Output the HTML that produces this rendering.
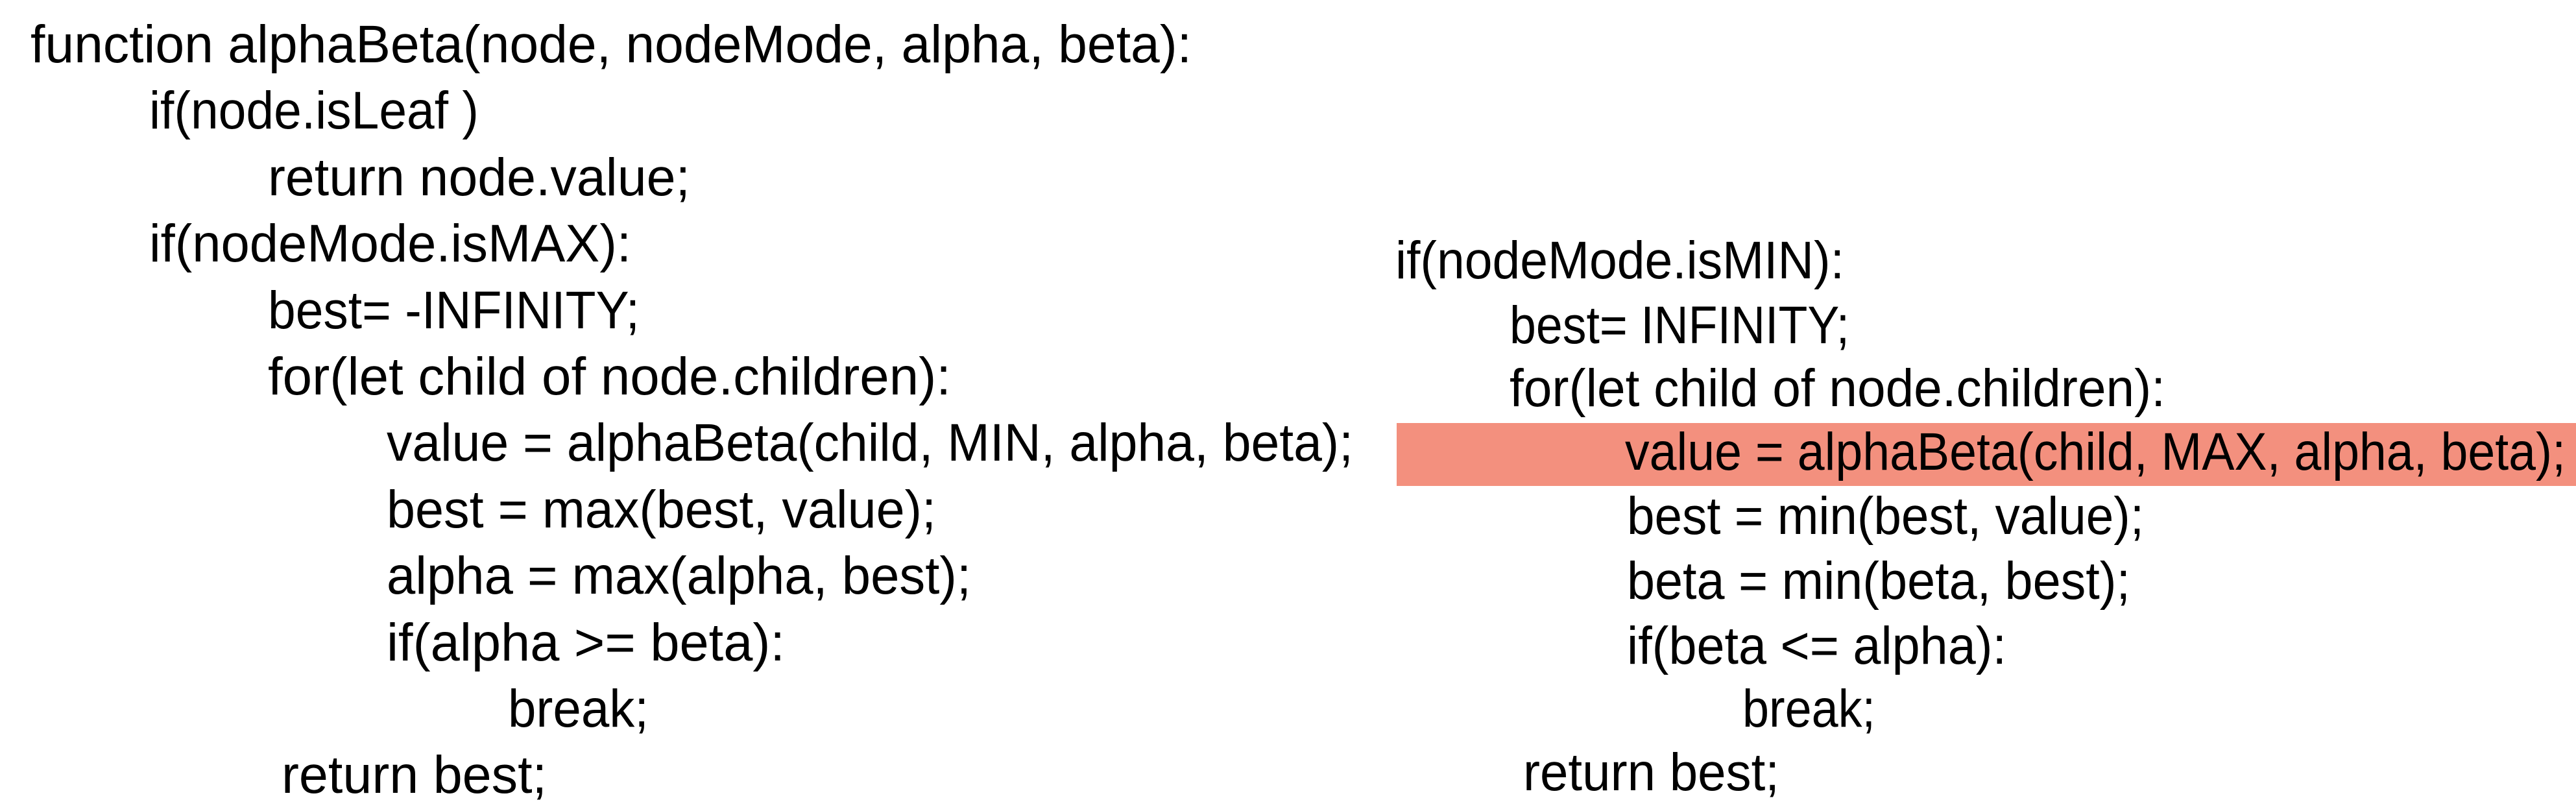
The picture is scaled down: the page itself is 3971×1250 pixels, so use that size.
<!DOCTYPE html>
<html><head><meta charset="utf-8"><style>
html,body{margin:0;padding:0;background:#fff;}
svg{display:block;}
text{font-family:"Liberation Sans",sans-serif;font-size:82px;fill:#000;}
</style></head><body>
<svg width="3971" height="1250" viewBox="0 0 3971 1250" xmlns="http://www.w3.org/2000/svg">
<rect x="0" y="0" width="3971" height="1250" fill="#fff"/>
<rect x="2153" y="652" width="1818" height="97" fill="#f3907e"/>
<g>
<text x="47" y="96" textLength="1790" lengthAdjust="spacingAndGlyphs">function alphaBeta(node, nodeMode, alpha, beta):</text>
<text x="230" y="198" textLength="508" lengthAdjust="spacingAndGlyphs">if(node.isLeaf )</text>
<text x="413" y="301" textLength="651" lengthAdjust="spacingAndGlyphs">return node.value;</text>
<text x="230" y="403" textLength="743" lengthAdjust="spacingAndGlyphs">if(nodeMode.isMAX):</text>
<text x="413" y="506" textLength="573" lengthAdjust="spacingAndGlyphs">best= -INFINITY;</text>
<text x="413" y="608" textLength="1053" lengthAdjust="spacingAndGlyphs">for(let child of node.children):</text>
<text x="596" y="710" textLength="1490" lengthAdjust="spacingAndGlyphs">value = alphaBeta(child, MIN, alpha, beta);</text>
<text x="596" y="813" textLength="847" lengthAdjust="spacingAndGlyphs">best = max(best, value);</text>
<text x="596" y="915" textLength="901" lengthAdjust="spacingAndGlyphs">alpha = max(alpha, best);</text>
<text x="596" y="1018" textLength="614" lengthAdjust="spacingAndGlyphs">if(alpha &gt;= beta):</text>
<text x="783" y="1120" textLength="217" lengthAdjust="spacingAndGlyphs">break;</text>
<text x="434" y="1222" textLength="409" lengthAdjust="spacingAndGlyphs">return best;</text>

<text x="2151" y="429" textLength="692" lengthAdjust="spacingAndGlyphs">if(nodeMode.isMIN):</text>
<text x="2327" y="529" textLength="524" lengthAdjust="spacingAndGlyphs">best= INFINITY;</text>
<text x="2327" y="626" textLength="1011" lengthAdjust="spacingAndGlyphs">for(let child of node.children):</text>
<text x="2505" y="724" textLength="1450" lengthAdjust="spacingAndGlyphs">value = alphaBeta(child, MAX, alpha, beta);</text>
<text x="2508" y="823" textLength="797" lengthAdjust="spacingAndGlyphs">best = min(best, value);</text>
<text x="2508" y="923" textLength="776" lengthAdjust="spacingAndGlyphs">beta = min(beta, best);</text>
<text x="2508" y="1023" textLength="585" lengthAdjust="spacingAndGlyphs">if(beta &lt;= alpha):</text>
<text x="2686" y="1120" textLength="205" lengthAdjust="spacingAndGlyphs">break;</text>
<text x="2348" y="1218" textLength="395" lengthAdjust="spacingAndGlyphs">return best;</text>
</g>
</svg>
</body></html>
